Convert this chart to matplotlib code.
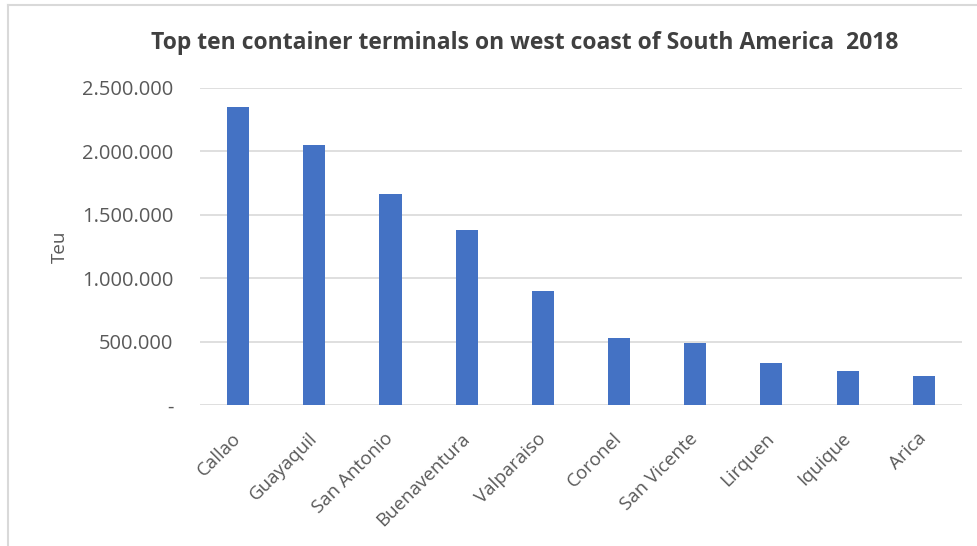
import matplotlib.pyplot as plt
from matplotlib.ticker import FuncFormatter
from matplotlib.lines import Line2D

terminals = ["Callao", "Guayaquil", "San Antonio", "Buenaventura", "Valparaiso",
             "Coronel", "San Vicente", "Lirquen", "Iquique", "Arica"]
teu = [2350000, 2050000, 1660000, 1380000, 900000,
       530000, 490000, 330000, 270000, 230000]
y_ticks = [0, 500000, 1000000, 1500000, 2000000, 2500000]

plt.rcParams['font.family'] = ['Open Sans', 'DejaVu Sans']


def eu_fmt(v, pos):
    if v == 0:
        return "-"
    return f"{int(v):,}".replace(",", ".")


fig = plt.figure(figsize=(9.78, 5.46), dpi=100)
ax = fig.add_axes([0.2045, 0.258, 0.779, 0.581])

x = range(len(terminals))
ax.bar(x, teu, width=0.29, color="#4472C4", zorder=3)

ax.set_ylim(0, 2500000)
ax.set_xlim(-0.5, len(terminals) - 0.5)
ax.set_yticks(y_ticks)
ax.yaxis.set_major_formatter(FuncFormatter(eu_fmt))
ax.grid(axis="y", color="#D9D9D9", linewidth=1.2, zorder=0)
for s in ax.spines.values():
    s.set_visible(False)
ax.tick_params(axis="both", length=0, colors="#595959")
ax.tick_params(axis="y", pad=19, labelsize=14.5)
ax.tick_params(axis="x", pad=22, labelsize=13.5)
ax.set_xticks(list(x))
ax.set_xticklabels(terminals, rotation=45, ha="right", va="center",
                   rotation_mode="anchor")
ax.set_ylabel("Teu", color="#595959", fontsize=13.5)
ax.yaxis.set_label_coords(-0.172, 0.5)

fig.suptitle("Top ten container terminals on west coast of South America  2018",
             x=0.537, y=0.943, fontsize=16.5, fontweight="bold", color="#404040")

# chart frame (left and top edges visible in the screenshot)
fig.add_artist(Line2D([0.008, 0.008], [0.0, 0.99], color="#D9D9D9", lw=1.5))
fig.add_artist(Line2D([0.008, 1.0], [0.99, 0.99], color="#D9D9D9", lw=1.5))

fig.savefig("out.png", dpi=100)
